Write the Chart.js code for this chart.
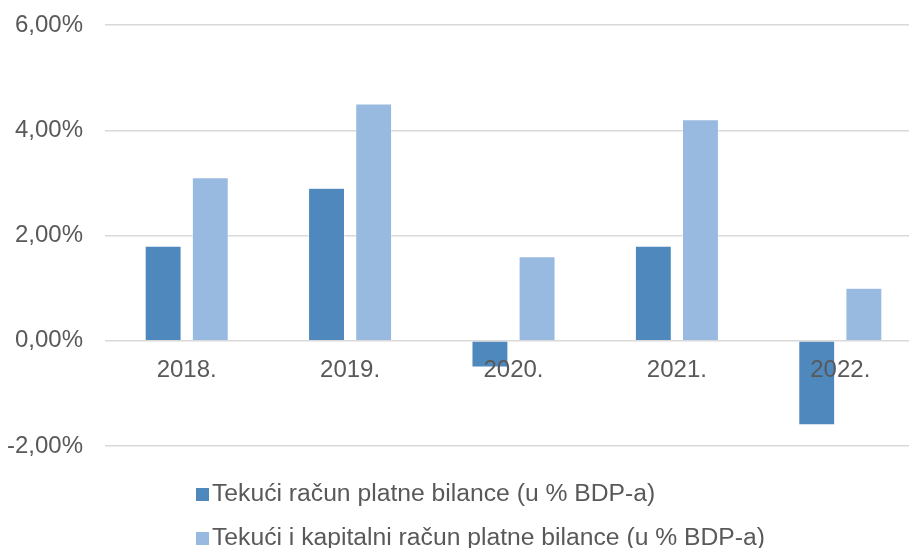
<!DOCTYPE html>
<html><head><meta charset="utf-8">
<script src="https://cdn.jsdelivr.net/npm/chart.js@4/dist/chart.umd.min.js"></script>
<style>
html,body{margin:0;padding:0;background:#fff;overflow:hidden;}
#wrap{position:relative;width:909px;height:548px;overflow:hidden;background:#fff;}
#c{position:absolute;left:0;top:0;}
.leg{position:absolute;left:196px;font-family:"Liberation Sans",Arial,sans-serif;font-size:24.7px;color:#595959;white-space:nowrap;line-height:28px;}
.leg span.box{display:inline-block;width:13px;height:13px;margin-right:3px;vertical-align:0px;}
</style></head>
<body>
<div id="wrap">
<canvas id="c" width="922" height="548"></canvas>
<div id="legend"></div>
</div>
<script>
const categories = ['2018.', '2019.', '2020.', '2021.', '2022.'];
const tekuciRacun = [1.8, 2.9, -0.5, 1.8, -1.6];
const tekuciIKapitalni = [3.1, 4.5, 1.6, 4.2, 1.0];
const seriesNames = ['Tekući račun platne bilance (u % BDP-a)', 'Tekući i kapitalni račun platne bilance (u % BDP-a)'];
const seriesColors = ['#4F88BD', '#98B9E0'];
const yTicks = [-2, 0, 2, 4, 6];

const FONT = '"Liberation Sans", Arial, sans-serif';
const TXT = '#595959';

const datasets = [tekuciRacun, tekuciIKapitalni].map((d, i) => ({
  label: seriesNames[i],
  data: d,
  backgroundColor: seriesColors[i],
  borderColor: '#ffffff',
  borderWidth: 0.6,
  categoryPercentage: 0.577,
  barPercentage: 0.766
}));

new Chart(document.getElementById('c'), {
  type: 'bar',
  data: { labels: categories, datasets },
  options: {
    responsive: false,
    animation: false,
    layout: { padding: { top: 25, bottom: 102, left: 0, right: 0 } },
    plugins: { legend: { display: false }, tooltip: { enabled: false } },
    scales: {
      x: {
        position: { y: 0 },
        grid: { display: false, drawTicks: false },
        border: { display: false },
        afterFit: s => { s.paddingLeft = 0; s.paddingRight = 0; },
        ticks: { z: 1, color: TXT, font: { family: FONT, size: 24 }, padding: 15, maxRotation: 0 }
      },
      y: {
        min: yTicks[0], max: yTicks[yTicks.length - 1],
        afterBuildTicks: s => { s.ticks = yTicks.map(v => ({ value: v })); },
        afterFit: s => { s.width = 105; s.paddingTop = 0; s.paddingBottom = 0; },
        grid: { color: '#D9D9D9', lineWidth: 1.5, drawTicks: false },
        border: { display: false },
        ticks: {
          color: TXT, font: { family: FONT, size: 24 }, padding: 22,
          callback: v => v.toFixed(2).replace('.', ',') + '%'
        }
      }
    }
  }
});

const legend = document.getElementById('legend');
const legTops = [479, 523];
seriesNames.forEach((n, i) => {
  const d = document.createElement('div');
  d.className = 'leg';
  d.style.top = legTops[i] + 'px';
  d.innerHTML = '<span class="box" style="background:' + seriesColors[i] + '"></span>' + n;
  legend.appendChild(d);
});
</script>
</body></html>
